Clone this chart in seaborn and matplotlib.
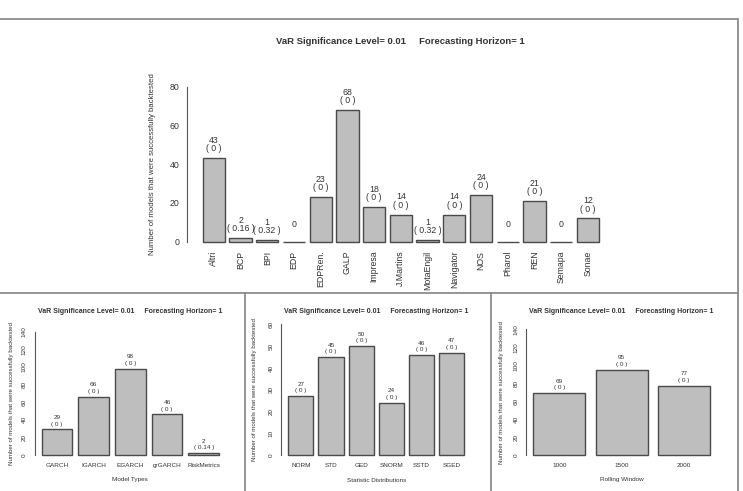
import seaborn as sns
import matplotlib.pyplot as plt
from matplotlib.lines import Line2D

sns.set_style('white')
plt.rcParams['font.family'] = ['Liberation Sans', 'DejaVu Sans']

title_txt = 'VaR Significance Level= 0.01     Forecasting Horizon= 1'
ylab_txt = 'Number of models that were successfully backtested'

# top panel: number of backtested models per stock, with p-value
stocks = ['Altri', 'BCP', 'BPI', 'EDP', 'EDPRen.', 'GALP', 'Impresa', 'J.Martins',
          'MotaEngil', 'Navigator', 'NOS', 'Pharol', 'REN', 'Semapa', 'Sonae']
stock_n = [43, 2, 1, 0, 23, 68, 18, 14, 1, 14, 24, 0, 21, 0, 12]
stock_p = [0, 0.16, 0.32, None, 0, 0, 0, 0, 0.32, 0, 0, None, 0, None, 0]

# bottom panels
models = ['GARCH', 'IGARCH', 'EGARCH', 'grGARCH', 'RiskMetrics']
model_n = [29, 66, 98, 46, 2]
model_p = [0, 0, 0, 0, 0.14]

dists = ['NORM', 'STD', 'GED', 'SNORM', 'SSTD', 'SGED']
dist_n = [27, 45, 50, 24, 46, 47]
dist_p = [0, 0, 0, 0, 0, 0]

windows = ['1000', '1500', '2000']
window_n = [69, 95, 77]
window_p = [0, 0, 0]

W, H = 743, 491
fig = plt.figure(figsize=(W / 100, H / 100), dpi=100)
txt_col = '#333333'
axis_col = '#555555'


def r_barplot(cats, n, p, bar_l, bar_r, y0_px, ytop_px, ytop, ystep,
              fs, rot_x, rot_y, lab_off):
    # place axes in pixels so it looks like an R barplot (space=0.2, 4% padding)
    k = len(cats)
    span = 1.2 * k - 0.2
    unit = (bar_r - bar_l) / span
    x0 = bar_l - 0.04 * span * unit
    x1 = bar_r + 0.04 * span * unit
    sc = (y0_px - ytop_px) / ytop
    yb = y0_px + 0.04 * ytop * sc
    yt = ytop_px - 0.04 * ytop * sc
    ax = fig.add_axes([x0 / W, 1 - yb / H, (x1 - x0) / W, (yb - yt) / H])

    sns.barplot(x=cats, y=n, order=cats, color='#BEBEBE', saturation=1,
                edgecolor='#4a4a4a', linewidth=1, width=1 / 1.2, ax=ax)
    ax.set_xlim((-0.5 - 0.04 * span) / 1.2, (1.2 * k + 0.04 * span - 0.7) / 1.2)
    ax.set_ylim(-0.04 * ytop, 1.04 * ytop)

    for s in ['top', 'right', 'bottom']:
        ax.spines[s].set_visible(False)
    ax.spines['left'].set_bounds(0, ytop)
    ax.spines['left'].set_color(axis_col)
    ax.spines['left'].set_linewidth(0.8)
    ax.set_yticks(range(0, ytop + 1, ystep))
    ax.tick_params(axis='y', length=4, width=0.8, color=axis_col, pad=1.5,
                   labelsize=fs, labelcolor=txt_col, labelrotation=rot_y)
    ax.tick_params(axis='x', length=0, pad=2, labelsize=fs, labelcolor=txt_col,
                   labelrotation=rot_x)
    if rot_y:
        for t in ax.get_yticklabels():
            t.set_verticalalignment('center')
    if rot_x:
        for t in ax.get_xticklabels():
            t.set_verticalalignment('top')
    ax.set_xlabel('')
    ax.set_ylabel('')

    for i, (v, pv) in enumerate(zip(n, p)):
        ax.annotate(str(v), (i, v), xytext=(0, lab_off[0]), textcoords='offset points',
                    ha='center', va='center', fontsize=fs, color=txt_col)
        if pv is not None:
            ax.annotate('( %g )' % pv, (i, v), xytext=(0, lab_off[1]),
                        textcoords='offset points', ha='center', va='center',
                        fontsize=fs, color=txt_col)
    return ax, (x0 + x1) / 2, (yt + yb) / 2


def ftext(x, y, s, **kw):
    fig.text(x / W, 1 - y / H, s, ha='center', va='center', color=txt_col, **kw)


# top panel
ax, cx, cy = r_barplot(stocks, stock_n, stock_p, 202.7, 599, 241.7, 86.7, 80, 20,
                       6.3, 90, 0, (12.7, 6.8))
ftext(cx, 42, title_txt, fontsize=6.8, fontweight='bold')
ftext(153, cy, ylab_txt, fontsize=5.6, rotation=90)

# bottom panels
bottom = [
    (models, model_n, model_p, 41.7, 219, 331.7, 140, 20, 'Model Types', 11.7),
    (dists, dist_n, dist_p, 288.3, 464.3, 324.5, 60, 10, 'Statistic Distributions', 255),
    (windows, window_n, window_p, 533.3, 710, 329.3, 140, 20, 'Rolling Window', 502),
]
for cats, n, p, bl, br, ytp, ytop, ystep, xlab, ylx in bottom:
    ax, cx, cy = r_barplot(cats, n, p, bl, br, 455, ytp, ytop, ystep,
                           4.6, 0, 90, (8.6, 3.8))
    ftext(cx, 311.7, title_txt, fontsize=5.0, fontweight='bold')
    ftext(cx, 480, xlab, fontsize=4.6)
    ftext(ylx, cy, ylab_txt, fontsize=4.4, rotation=90)

# panel borders
border = '#8c8c8c'
for xs, ys in [((0, 738), (19, 19)), ((0, 738), (293, 293)), ((738, 738), (19, 491)),
               ((245, 245), (293, 491)), ((491, 491), (293, 491))]:
    fig.add_artist(Line2D([x / W for x in xs], [1 - y / H for y in ys],
                          color=border, lw=1.3))

fig.savefig('out.png', dpi=100)
